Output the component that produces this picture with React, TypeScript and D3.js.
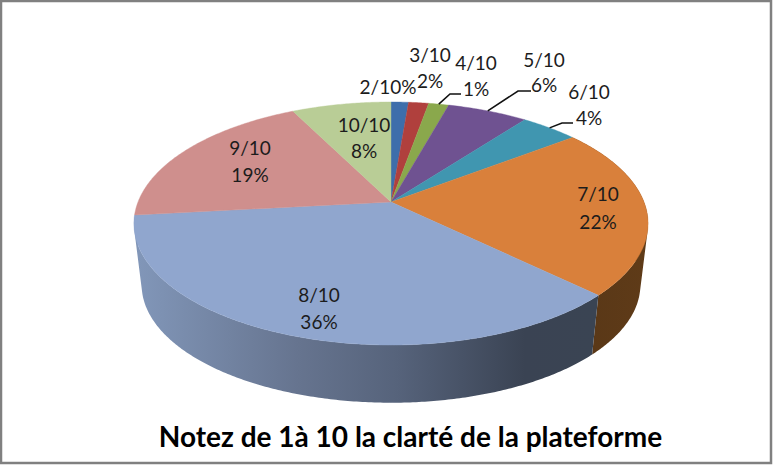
import React from 'react';
import * as d3 from 'd3';

const categories = ['2/10', '3/10', '4/10', '5/10', '6/10', '7/10', '8/10', '9/10', '10/10'];
const values = [1.3, 1.5, 1.5, 6.0, 4.3, 22.6, 36.0, 19.3, 7.4];
const percentLabels = ['%', '2%', '1%', '6%', '4%', '22%', '36%', '19%', '8%'];
const colors = ['#3e6eab', '#b0403d', '#8aa84c', '#6f5291', '#4096b0', '#d9803b', '#90a6ce', '#cf8f8d', '#b9cd96'];
const title = 'Notez de 1à 10 la clarté de la plateforme';

const width = 773;
const height = 465;

// label anchors, same order as categories
const labelX = [388, 430, 476, 544, 589, 598, 319, 250, 364];
const labelY = [94, 62, 70, 67, 99, 201, 302, 155, 132];
const lineGap = [0, 26, 26, 25, 26, 28, 27, 27, 26];

// leaders only on the small slices at the top
const leaders: Record<string, { elbowX: number; elbowY: number; endX: number }> = {
  '4/10': { elbowX: 450, elbowY: 94, endX: 461 },
  '5/10': { elbowX: 518, elbowY: 91, endX: 531 },
  '6/10': { elbowX: 562, elbowY: 123, endX: 573 },
};

// perspective of the tilted disc, the apex is not the middle of the ellipse
const cx = 391;
const cy = 202;
const scaleU = 253;
const scaleV = 117.7;
const persp = 0.177;
const depth = 62;
const bottomScale = 0.97;

const project = (angle: number, bottom = false): [number, number] => {
  const u = Math.sin(angle);
  const v = -Math.cos(angle);
  const w = 1 - persp * v;
  const s = bottom ? bottomScale : 1;
  return [cx + (s * scaleU * u) / w, cy + (bottom ? depth : 0) + (s * scaleV * v) / w];
};

const arcPoints = (a0: number, a1: number, bottom = false): [number, number][] => {
  const n = Math.max(2, Math.ceil((a1 - a0) / 0.01));
  return d3.range(n + 1).map(i => project(a0 + ((a1 - a0) * i) / n, bottom));
};

const line = d3.line();

// one quad per step in a single path, all wound the same way or the fold at the
// silhouette cancels out under nonzero fill
const wallPath = (a0: number, a1: number) => {
  const top = arcPoints(a0, a1);
  const bot = arcPoints(a0, a1, true);
  return d3
    .range(top.length - 1)
    .map(i => {
      const quad: [number, number][] = [top[i], top[i + 1], bot[i + 1], bot[i]];
      if (d3.polygonArea(quad) < 0) quad.reverse();
      return line(quad) + 'Z';
    })
    .join('');
};

const slices = d3.pie<number>().sort(null).value(d => d)(values);

export default function App() {
  const wallSlices = slices.filter((_, i) => categories[i] === '7/10' || categories[i] === '8/10');

  return (
    <svg
      width={width}
      height={height}
      style={{ position: 'fixed', left: 0, top: 0, display: 'block', background: '#fff' }}
      fontFamily="Lato, 'Open Sans', sans-serif"
    >
      <defs>
        <linearGradient id="wall8" gradientUnits="userSpaceOnUse" x1={139} x2={593} y1={0} y2={0}>
          <stop offset="0" stopColor="#8196b8" />
          <stop offset="0.35" stopColor="#66748f" />
          <stop offset="0.57" stopColor="#56637b" />
          <stop offset="0.85" stopColor="#3a4353" />
          <stop offset="1" stopColor="#3a4453" />
        </linearGradient>
        <linearGradient id="wall7" gradientUnits="userSpaceOnUse" x1={593} x2={648} y1={0} y2={0}>
          <stop offset="0" stopColor="#5a3817" />
          <stop offset="1" stopColor="#5f3b18" />
        </linearGradient>
      </defs>

      <rect x={1} y={1} width={width - 3} height={height - 3} fill="#fff" stroke="#808080" strokeWidth={2.5} />

      {wallSlices.map(s => (
        <path
          key={s.index}
          d={wallPath(s.startAngle, s.endAngle)}
          fill={categories[s.index] === '8/10' ? 'url(#wall8)' : 'url(#wall7)'}
        />
      ))}

      {slices.map(s => (
        <path
          key={s.index}
          d={line([[cx, cy], ...arcPoints(s.startAngle, s.endAngle)]) + 'Z'}
          fill={colors[s.index]}
          stroke={colors[s.index]}
          strokeWidth={0.4}
        />
      ))}

      {slices.map(s => {
        const l = leaders[categories[s.index]];
        if (!l) return null;
        const start = project((s.startAngle + s.endAngle) / 2);
        return (
          <path
            key={s.index}
            d={line([start, [l.elbowX, l.elbowY], [l.endX, l.elbowY]]) ?? ''}
            fill="none"
            stroke="#111"
            strokeWidth={1.6}
          />
        );
      })}

      {categories.map((c, i) => (
        <g key={c} fontSize={19} fill="#1c1c1c" textAnchor="middle">
          {lineGap[i] === 0 ? (
            <text x={labelX[i]} y={labelY[i]}>{c + percentLabels[i]}</text>
          ) : (
            <>
              <text x={labelX[i]} y={labelY[i]}>{c}</text>
              <text x={labelX[i]} y={labelY[i] + lineGap[i]}>{percentLabels[i]}</text>
            </>
          )}
        </g>
      ))}

      <text x={410.5} y={447} textAnchor="middle" fontSize={28} fontWeight={700} fill="#000">
        {title}
      </text>
    </svg>
  );
}
